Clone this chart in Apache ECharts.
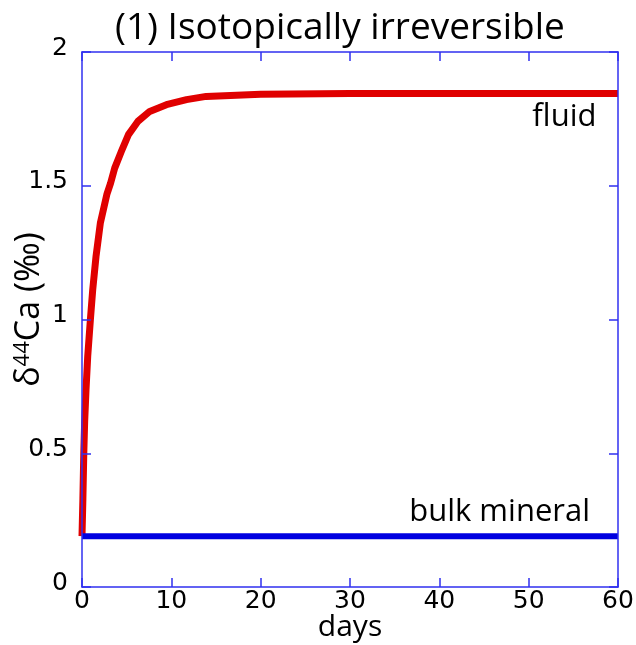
<!DOCTYPE html>
<html>
<head>
<meta charset="utf-8">
<title>Isotopically irreversible</title>
<script src="https://cdn.jsdelivr.net/npm/echarts@6/dist/echarts.min.js"></script>
<style>
  html, body { margin: 0; padding: 0; background: #fff; }
  #chart { width: 636px; height: 645px; }
</style>
</head>
<body>
<div id="chart"></div>
<script>
// Fluid δ44Ca over time (days)
const fluidDays   = [0, 0.1, 0.2, 0.3, 0.45, 0.64, 0.94, 1.2, 1.57, 2.06, 2.8, 3.2, 3.66, 4.4, 5.2, 6.27, 7.58, 9.45, 11.7, 13.9, 20, 30, 40, 50, 60];
const fluidValues = [0.19, 0.33, 0.5, 0.62, 0.738, 0.862, 1.0, 1.111, 1.236, 1.362, 1.47, 1.51, 1.566, 1.628, 1.691, 1.741, 1.778, 1.803, 1.822, 1.834, 1.842, 1.845, 1.845, 1.845, 1.845];

// Bulk mineral δ44Ca over time (days)
const mineralDays   = [0, 60];
const mineralValues = [0.19, 0.19];

// Axis ticks
const xTicks = [0, 10, 20, 30, 40, 50, 60];
const yTicks = [0, 0.5, 1, 1.5, 2];

const axisBlue = '#3030f0';
const textFont = 'Open Sans';
const numFont = 'DejaVu Sans';

const chart = echarts.init(document.getElementById('chart'), null, { renderer: 'canvas' });

const baseX = {
  type: 'value',
  min: xTicks[0],
  max: xTicks[xTicks.length - 1],
  interval: xTicks[1] - xTicks[0],
  splitLine: { show: false },
  axisLine: { show: true, onZero: false, lineStyle: { color: axisBlue, width: 1.5 } },
  axisTick: { show: true, inside: true, length: 9, lineStyle: { color: axisBlue, width: 1.5 } },
  z: 5
};
const baseY = {
  type: 'value',
  min: yTicks[0],
  max: yTicks[yTicks.length - 1],
  interval: yTicks[1] - yTicks[0],
  splitLine: { show: false },
  axisLine: { show: true, onZero: false, lineStyle: { color: axisBlue, width: 1.5 } },
  axisTick: { show: true, inside: true, length: 9, lineStyle: { color: axisBlue, width: 1.5 } },
  z: 5
};

chart.setOption({
  animation: false,
  backgroundColor: '#fff',
  title: {
    text: '(1) Isotopically irreversible',
    left: 110,
    top: 5,
    textStyle: { fontFamily: textFont, fontSize: 37, fontWeight: 'normal', color: '#000' }
  },
  grid: { left: 82, top: 52, right: 18, bottom: 58, containLabel: false, outerBoundsMode: 'none' },
  xAxis: [
    Object.assign({}, baseX, {
      position: 'bottom',
      name: 'days',
      nameLocation: 'middle',
      nameGap: 25,
      nameMoveOverlap: false,
      nameTextStyle: { fontFamily: textFont, fontSize: 30, color: '#000' },
      axisLabel: {
        show: true, margin: 2, color: '#000',
        fontFamily: numFont, fontSize: 25,
        formatter: v => String(v)
      }
    }),
    Object.assign({}, baseX, { position: 'top', axisLabel: { show: false } })
  ],
  yAxis: [
    Object.assign({}, baseY, {
      position: 'left',
      name: '{d|δ}{s|44}{d|Ca (‰)}',
      nameLocation: 'middle',
      nameGap: 36,
      nameRotate: 90,
      nameMoveOverlap: false,
      nameTextStyle: {
        padding: [0, 0, 0, 20],
        rich: {
          d: { fontFamily: textFont, fontSize: 34, color: '#000' },
          s: { fontFamily: textFont, fontSize: 22, color: '#000', verticalAlign: 'top', padding: [0, 0, 11, 0] }
        }
      },
      axisLabel: {
        show: true, margin: 14, color: '#000',
        formatter: v => '{n|' + v + '}',
        rich: {
          n: { fontFamily: numFont, fontSize: 25, color: '#000', padding: [0, 0, 8, 0] }
        }
      }
    }),
    Object.assign({}, baseY, { position: 'right', axisLabel: { show: false } })
  ],
  series: [
    {
      name: 'fluid',
      type: 'line',
      data: fluidDays.map((d, i) => [d, fluidValues[i]]),
      showSymbol: false,
      smooth: false,
      clip: false,
      lineStyle: { color: '#e00000', width: 7, cap: 'butt', join: 'round' },
      z: 2,
      markPoint: {
        symbol: 'circle',
        symbolSize: 0,
        data: [{ coord: [54, 1.755], value: 'fluid' }],
        label: {
          show: true, position: 'inside', formatter: 'fluid',
          fontFamily: textFont, fontSize: 31, color: '#000'
        }
      }
    },
    {
      name: 'bulk mineral',
      type: 'line',
      data: mineralDays.map((d, i) => [d, mineralValues[i]]),
      showSymbol: false,
      clip: false,
      lineStyle: { color: '#0000e0', width: 6, cap: 'butt' },
      z: 3,
      markPoint: {
        symbol: 'circle',
        symbolSize: 0,
        data: [{ coord: [46.75, 0.281], value: 'bulk mineral' }],
        label: {
          show: true, position: 'inside', formatter: 'bulk mineral',
          fontFamily: textFont, fontSize: 31, color: '#000'
        }
      }
    }
  ]
});
</script>
</body>
</html>
